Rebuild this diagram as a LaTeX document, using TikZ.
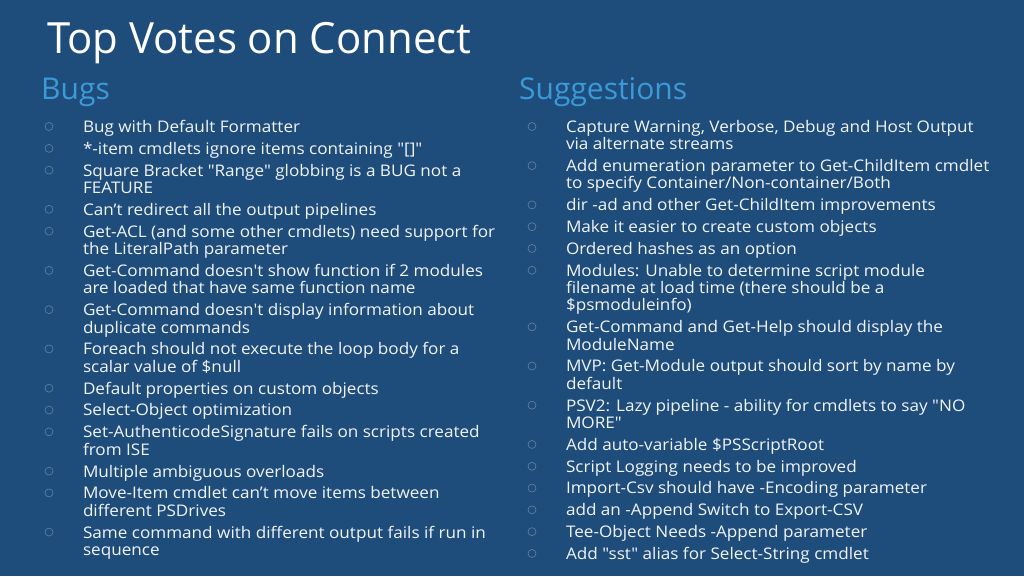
\documentclass[tikz,border=0pt]{standalone}
\usepackage{fontspec}
\usepackage{tikz}
\usetikzlibrary{positioning}
\newfontfamily\slidefont{Open Sans}
\newfontfamily\titlefont[FakeStretch=0.975]{Open Sans}
\newfontfamily\bodyfont[FakeStretch=1.07]{Open Sans}
\definecolor{slidebg}{HTML}{1F4D7B}
\definecolor{headblue}{HTML}{3B9AD8}
\tikzset{
    x=1pt, y=-1pt, % pixel-like coordinates, y going down
    title/.style={anchor=base west, inner sep=0pt, text=white, font=\titlefont\fontsize{43}{48}\selectfont},
    heading/.style={anchor=base west, inner sep=0pt, text=headblue, font=\slidefont\fontsize{30}{34}\selectfont},
    entry/.style={anchor=north west, inner xsep=0pt, inner ysep=2.2pt, outer sep=0pt, align=left, text=white!94!slidebg,
        font=\bodyfont\fontsize{16}{17.4}\selectfont,
        execute at begin node=\strut, execute at end node=\strut},
    dot/.style={circle, draw=white!30!slidebg, line width=0.6pt, minimum size=8pt, inner sep=0pt},
}
\begin{document}
\begin{tikzpicture}
\fill[slidebg] (0,0) rectangle (1024,576);
\useasboundingbox (0,0) rectangle (1024,576);

\node[title] (ttl) at (47,53) {Top Votes on Connect};
\node[heading] (bugs) at (41,99) {Bugs};
\node[heading] (sugg) at (519,99) {Suggestions};

% bugs column
\node[entry] (b1) at (83,118) {Bug with Default Formatter};
\node[below=0pt of b1.south west, entry] (b2) {*-item cmdlets ignore items containing "[]"};
\node[below=0pt of b2.south west, entry] (b3) {Square Bracket "Range" globbing is a BUG not a\\FEATURE};
\node[below=0pt of b3.south west, entry] (b4) {Can’t redirect all the output pipelines};
\node[below=0pt of b4.south west, entry] (b5) {Get-ACL (and some other cmdlets) need support for\\the LiteralPath parameter};
\node[below=0pt of b5.south west, entry] (b6) {Get-Command doesn't show function if 2 modules\\are loaded that have same function name};
\node[below=0pt of b6.south west, entry] (b7) {Get-Command doesn't display information about\\duplicate commands};
\node[below=0pt of b7.south west, entry] (b8) {Foreach should not execute the loop body for a\\scalar value of \$null};
\node[below=0pt of b8.south west, entry] (b9) {Default properties on custom objects};
\node[below=0pt of b9.south west, entry] (b10) {Select-Object optimization};
\node[below=0pt of b10.south west, entry] (b11) {Set-AuthenticodeSignature fails on scripts created\\from ISE};
\node[below=0pt of b11.south west, entry] (b12) {Multiple ambiguous overloads};
\node[below=0pt of b12.south west, entry] (b13) {Move-Item cmdlet can’t move items between\\different PSDrives};
\node[below=0pt of b13.south west, entry] (b14) {Same command with different output fails if run in\\sequence};

% suggestions column
\node[entry] (s1) at (566,118) {Capture Warning, Verbose, Debug and Host Output\\via alternate streams};
\node[below=0pt of s1.south west, entry] (s2) {Add enumeration parameter to Get-ChildItem cmdlet\\to specify Container/Non-container/Both};
\node[below=0pt of s2.south west, entry] (s3) {dir -ad and other Get-ChildItem improvements};
\node[below=0pt of s3.south west, entry] (s4) {Make it easier to create custom objects};
\node[below=0pt of s4.south west, entry] (s5) {Ordered hashes as an option};
\node[below=0pt of s5.south west, entry] (s6) {Modules: Unable to determine script module\\filename at load time (there should be a\\\$psmoduleinfo)};
\node[below=0pt of s6.south west, entry] (s7) {Get-Command and Get-Help should display the\\ModuleName};
\node[below=0pt of s7.south west, entry] (s8) {MVP: Get-Module output should sort by name by\\default};
\node[below=0pt of s8.south west, entry] (s9) {PSV2: Lazy pipeline - ability for cmdlets to say "NO\\MORE"};
\node[below=0pt of s9.south west, entry] (s10) {Add auto-variable \$PSScriptRoot};
\node[below=0pt of s10.south west, entry] (s11) {Script Logging needs to be improved};
\node[below=0pt of s11.south west, entry] (s12) {Import-Csv should have -Encoding parameter};
\node[below=0pt of s12.south west, entry] (s13) {add an -Append Switch to Export-CSV};
\node[below=0pt of s13.south west, entry] (s14) {Tee-Object Needs -Append parameter};
\node[below=0pt of s14.south west, entry] (s15) {Add "sst" alias for Select-String cmdlet};

% bullets
\foreach \n in {b1,b2,b3,b4,b5,b6,b7,b8,b9,b10,b11,b12,b13,b14,s1,s2,s3,s4,s5,s6,s7,s8,s9,s10,s11,s12,s13,s14,s15}
    \node[dot] at ([xshift=-34pt, yshift=-8.5pt]\n.north west) {};
\end{tikzpicture}
\end{document}
